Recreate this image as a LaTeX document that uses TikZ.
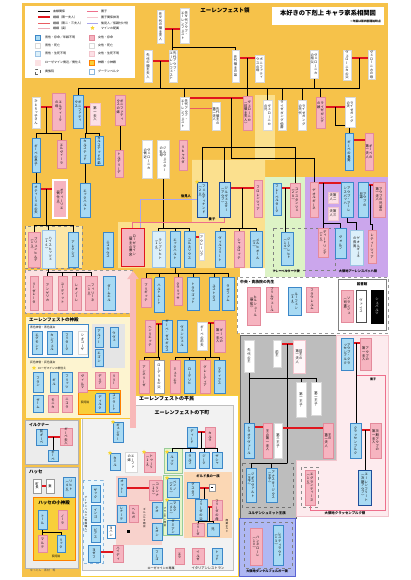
\documentclass[tikz,border=0pt]{standalone}
\usepackage{fontspec}
\setmainfont{Noto Sans CJK JP}
\newfontfamily\vjp[RawFeature=+vert]{Noto Sans CJK JP}
\usetikzlibrary{calc,shapes.geometric,arrows.meta}
\definecolor{cOr}{HTML}{F6C24A}
\definecolor{cOrL}{HTML}{FBE08E}
\definecolor{cBlue}{HTML}{A8DAF3}
\definecolor{cBlueD}{HTML}{3C87C8}
\definecolor{cBlueT}{HTML}{1F4E9A}
\definecolor{cBlueL}{HTML}{DCF0FA}
\definecolor{cPink}{HTML}{F6B4C0}
\definecolor{cPinkD}{HTML}{E48A9B}
\definecolor{cPinkL}{HTML}{FCE0E6}
\definecolor{cRed}{HTML}{E0161E}
\definecolor{cAdopt}{HTML}{EE6F8C}
\definecolor{cGreen}{HTML}{DDF3C6}
\definecolor{cPurp}{HTML}{CBA6EC}
\definecolor{cGray}{HTML}{BDBDBD}
\definecolor{cGrayL}{HTML}{ECECEC}
\definecolor{cKl}{HTML}{FDEBEE}
\definecolor{cDk}{HTML}{AFB8F3}
\definecolor{cDkD}{HTML}{5A63D3}
\definecolor{cTemple}{HTML}{FDF4D0}
\definecolor{cYel}{HTML}{F8CF3A}
\definecolor{cGuild}{HTML}{FBD7B4}
\definecolor{cGil}{HTML}{F8D2CC}
\definecolor{cPlant}{HTML}{E7F5C9}
\definecolor{cLav}{HTML}{A9A6EE}
\definecolor{cRetain}{HTML}{FBE2E2}
\definecolor{cStar}{HTML}{F9D62E}
\definecolor{cArrow}{HTML}{F8B9B9}
\pgfdeclarelayer{bg}\pgfdeclarelayer{ln}\pgfsetlayers{bg,ln,main}
\makeatletter
\def\vtsize{3.3}\def\vtstep{3.6}
\def\vt@end{\vt@end@@}
\newcommand\vt[1]{\vtop{\vjp\fontsize{\vtsize}{\vtstep}\selectfont\baselineskip=\vtstep pt\relax\lineskiplimit=-100pt\lineskip=0pt\relax\vt@a#1\vt@end}}
\def\vt@a#1{\ifx#1\vt@end\else\hbox to 1em{\hss#1\hss}\expandafter\vt@a\fi}
\newcommand\vtt[2]{\hbox{\vt{#2}\kern0.4pt\vt{#1}}}
\newcommand\vts[1]{{\def\vtsize{2.6}\def\vtstep{2.9}\vt{#1}}}
\makeatother
\newcommand\PB[7]{\node[#2,minimum width={(#5)-(#3)},minimum height={(#6)-(#4)}] (#1) at ({((#3)+(#5))/2},{((#4)+(#6))/2}) {#7};}
\newcommand\Mar[4][mar]{\draw[#1] (#2.east |- 0,#4) -- coordinate (#2#3) (#3.west |- 0,#4);}
\newcommand\Kids[3]{\draw[kin] (#1) -- (#1 |- 0,#2); \foreach \c in {#3}{\draw[kin] (#1 |- 0,#2) -| (\c.north);}}
\newcommand\St[1]{\node[stary] (st#1) at (#1.north west) {};}
\tikzset{
 bx/.style={inner sep=0pt,outer sep=0pt,line width=0.45pt},
 mal/.style={bx,fill=cBlue,draw=cBlueD},
 malt/.style={mal,line width=0.9pt,draw=cBlueT},
 malu/.style={bx,fill=cBlueL,draw=cBlueD!50},
 fem/.style={bx,fill=cPink,draw=cPinkD},
 femu/.style={bx,fill=cPinkL,draw=cPinkD!50},
 ded/.style={bx,fill=white,draw=black!15},
 kin/.style={draw=black,line width=0.45pt},
 mar/.style={draw=cRed,line width=1.1pt},
 marb/.style={draw=cRed!70,line width=0.7pt},
 marc/.style={draw=cPinkD!70,line width=0.6pt},
 adopt/.style={draw=cAdopt,line width=0.7pt},
 adoptx/.style={draw=cPinkL!70!cPinkD,line width=0.7pt},
 guard/.style={draw=cLav,line width=0.8pt},
 lab/.style={inner sep=0pt,font=\fontsize{3}{3}\selectfont},
 rlab/.style={inner sep=0pt,font=\bfseries\fontsize{4.5}{4.5}\selectfont},
 stary/.style={star,star points=5,star point ratio=2.2,fill=cStar,draw=none,inner sep=0pt,minimum size=4.5pt},
}
\begin{document}
\begin{tikzpicture}[x=1pt,y=-1pt]
\useasboundingbox (0,0) rectangle (410,580);
\begin{pgfonlayer}{bg}
\fill[white] (0,0) rectangle (410,580);
\fill[cOr] (22,3) rectangle (388,177);
\fill[cOr] (22,3) rectangle (240,577);
\fill[cOrL] (192,160) -- (265,160) -- (265,268) -- (118,268) -- (118,222) -- (192,222) -- cycle;
\fill[cOrL] (255,95) rectangle (275,160);
\fill[white] (25,6) rectangle (135,78);
\fill[white] (272,7) rectangle (384,25);
\draw[dashed,draw=black!45,fill=cOrL!80] (25,226) rectangle (82,268);
\draw[dashed,draw=black!40,fill=cRetain] (25,270) rectangle (132,313);
\fill[cGreen] (265,177) rectangle (305,277);
\fill[cPurp] (305,177) rectangle (388,277);
\draw[dashed,draw=black!50] (273,228) rectangle (335,270);
\draw[dashed,draw=black!40,fill=white] (237,277) rectangle (388,333);
\draw[draw=black!50,line width=0.6pt,fill=white] (338,279) rectangle (386,330);
\draw[draw=black!60,line width=0.6pt,fill=cGray] (240,335) -- (336,335) -- (336,460) -- (296,460) -- (296,518) -- (240,518) -- cycle;
\draw[dashed,draw=black!55] (242,463) rectangle (293,507);
\draw[draw=cPinkD!50,line width=0.6pt,fill=cKl] (336,335) -- (388,335) -- (388,516) -- (296,516) -- (296,460) -- (336,460) -- cycle;
\draw[dashed,draw=black!45] (301,467) rectangle (318,507);
\draw[draw=cDkD,line width=1pt,fill=cDk] (239,518) rectangle (295,576);
\draw[dashed,draw=black!50] (244,522) rectangle (292,568);
\draw[draw=cYel,line width=0.8pt,fill=white] (80,395) rectangle (238,576);
\draw[draw=black!25,line width=0.6pt,fill=black!5] (82,405) rectangle (233,570);
\draw[draw=cYel!90!orange,line width=1pt,fill=cTemple] (25,316) rectangle (130,418);
\draw[draw=cBlueD,line width=0.6pt,fill=cBlueL!70!black!5] (28,324) rectangle (88,357);
\fill[black!10] (92,324) rectangle (125,368);
\draw[draw=orange,line width=0.6pt,fill=cYel] (78,390) rectangle (120,414);
\draw[draw=black!30,line width=0.6pt,fill=cGrayL] (25,420) rectangle (78,464);
\draw[draw=black!30,line width=0.6pt,fill=cGrayL] (25,467) rectangle (78,568);
\draw[draw=orange,line width=0.8pt,fill=cYel] (33,497) rectangle (75,560);
\fill[cGil] (116,476) rectangle (162,545);
\draw[draw=green!50!black!40,fill=cPlant] (163,475) rectangle (182,535);
\draw[draw=green!50!black!40,fill=cPlant] (164,448) rectangle (182,473);
\fill[cGuild] (184,472) rectangle (232,538);
\draw[dashed,draw=cBlueD!60,fill=cBlueL!60] (83,480) rectangle (103,563);
\end{pgfonlayer}
% ---------- legend ----------
\foreach \i/\y/\s/\t in {1/11/kin/血縁関係,2/17/mar/婚姻（第一夫人）,3/23/marb/婚姻（第二・三夫人）,4/28/marc/婚姻（妾）}{
 \coordinate (la\i) at (38,\y); \coordinate (lb\i) at (50,\y);
 \draw[\s] (la\i) -- (lb\i);
 \node[lab,anchor=west] (lt\i) at (53,\y) {\t};}
\foreach \i/\y/\s/\t in {5/11/adopt/養子,6/17/adoptx/養子関係抹消,7/23/guard/後見人／仮親付け役}{
 \coordinate (la\i) at (87,\y); \coordinate (lb\i) at (98,\y);
 \draw[\s] (la\i) -- (lb\i);
 \node[lab,anchor=west] (lt\i) at (101,\y) {\t};}
\node[stary] (lst) at (92.5,28) {};
\node[lab,anchor=west] (lt8) at (101,28) {マインの配属};
\PB{li1}{mal}{35}{35}{40}{40}{}
\PB{li2}{ded}{35}{43}{40}{48}{}
\PB{li3}{malu}{35}{51}{40}{56}{}
\PB{li4}{bx,fill=cRetain,draw=cPinkL}{35}{60}{40}{65}{}
\PB{li5}{bx,draw=black!60,dashed,fill=white}{35}{69}{40}{74}{}
\node[lab,anchor=west] (lu1) at (45,37.5) {男性・存命／年齢不明};
\node[lab,anchor=west] (lu2) at (45,45.5) {男性・死亡};
\node[lab,anchor=west] (lu3) at (45,53.5) {男性・生死不明};
\node[lab,anchor=west] (lu4) at (45,62.5) {ローゼマイン側近／側仕え};
\node[lab,anchor=west] (lu5) at (45,71.5) {貴族院};
\PB{lj1}{fem}{89}{35}{94}{40}{}
\PB{lj2}{ded}{89}{43}{94}{48}{}
\PB{lj3}{femu}{89}{51}{94}{56}{}
\PB{lj4}{bx,fill=cYel,draw=orange}{89}{60}{94}{65}{}
\PB{lj5}{bx,fill=white,draw=cBlueD!60}{89}{69}{94}{74}{}
\node[lab,anchor=west] (lv1) at (98,37.5) {女性・存命};
\node[lab,anchor=west] (lv2) at (98,45.5) {女性・死亡};
\node[lab,anchor=west] (lv3) at (98,53.5) {女性・生死不明};
\node[lab,anchor=west] (lv4) at (98,62.5) {神殿・小神殿};
\node[lab,anchor=west] (lv5) at (98,71.5) {グーテンベルク};
% ---------- titles ----------
\node[inner sep=0,font=\bfseries\fontsize{6.3}{6.3}\selectfont] (title) at (328,13.5) {本好きの下剋上 キャラ家系相関図};
\node[inner sep=0,anchor=east,font=\bfseries\fontsize{2.8}{2.8}\selectfont] (subt) at (381,21.5) {※年齢は第四部開始時点};
\node[rlab,font=\bfseries\fontsize{5.5}{5.5}\selectfont] (erl) at (225,10) {エーレンフェスト領};
% ---------- upper tree ----------
\PB{A1}{ded}{157}{10}{164}{43}{\vt{先々代の領主夫人}}
\PB{A2}{ded}{180}{8}{189}{43}{\vtt{先々代アウブ・}{エーレンフェスト}}
\PB{B1}{ded}{144}{50}{152}{82}{\vt{先代の領主夫人}}
\PB{B2}{ded}{169}{50}{177}{82}{\vtt{先代アウブ・}{エーレンフェスト}}
\PB{B3}{ded}{232}{50}{239}{82}{\vt{先代領主の弟}}
\PB{B4}{ded}{255}{55}{264}{82}{\vtt{ボニファティ}{ウスの母}}
\PB{B5}{ded}{310}{50}{318}{78}{\vtt{ヴェローニカ}{の祖父}}
\PB{B6}{ded}{343}{50}{351}{80}{\vt{ヴェローニカの父}}
\PB{B7}{ded}{368}{50}{375}{79}{\vt{ヴェローニカの母}}
\PB{C1}{ded}{32}{97}{40}{128}{\vt{ひとりっ子さん}}
\PB{C2}{fem}{52}{93}{65}{130}{\vtt{エルヴィーラ}{の母}}
\PB{C3}{mal}{73}{95}{83}{128}{\vtt{ボニファティ}{ウス}}
\PB{C4}{femu}{90}{103}{100}{125}{\vt{第一夫人}}
\PB{C5}{fem}{115}{95}{125}{125}{\vtt{ボニファティ}{ウスの妹}}
\PB{C6}{ded}{180}{97}{189}{130}{\vtt{先代アウブ・}{エーレンフェスト}}
\PB{C7}{ded}{212}{102}{220}{130}{\vtt{先代領主の}{第二夫人}}
\PB{C8}{fem}{243}{96}{252}{130}{\vtt{ヴェローニカ}{（前領主夫人）}}
\PB{C9}{ded}{263}{100}{272}{130}{\vtt{ヴェローニカ}{の兄}}
\PB{C10}{ded}{278}{100}{286}{130}{\vt{ライゼガング伯爵}}
\PB{C11}{ded}{298}{100}{306}{130}{\vtt{ライゼガング}{の先代}}
\PB{C12}{fem}{316}{97}{325}{128}{\vtt{ライゼガング}{の娘}}
\PB{C13}{ded}{345}{97}{355}{127}{\vtt{ライゼガング}{の夫}}
\PB{D1}{mal}{32}{138}{40}{172}{\vt{ギーベの息子}}
\PB{D2}{fem}{57}{140}{66}{168}{\vt{エルヴィーラ}}
\PB{D3}{mal}{80}{138}{90}{163}{\vt{カルステッド}}
\PB{D4}{mal}{95}{136}{103}{165}{\vt{カルステッドの弟}}
\PB{D5}{fem}{115}{150}{123}{177}{\vt{トルデリーデ}}
\PB{D6}{ded}{142}{140}{152}{178}{\vtt{ヴェローニカ}{の側近}}
\PB{D7}{ded}{157}{140}{169}{178}{\vtt{ジルヴェスター}{の乳母}}
\PB{D8}{fem}{179}{140}{187}{170}{\vt{リヒャルダ}}
\PB{D9}{mal}{345}{133}{353}{170}{\vt{ギーベの長男}}
\PB{D10}{fem}{365}{133}{373}{170}{\vtt{ギーベの}{第一夫人}}
\PB{E1}{mal}{32}{183}{40}{217}{\vt{オティーリエの夫}}
\PB{E2}{fem,draw=white,line width=1.4pt}{53}{180}{67}{218}{\vtt{オティーリエ}{（側仕え）}}
\PB{E3}{mal}{80}{183}{90}{217}{\vt{エックハルト}}
\PB{F1}{fem}{28}{232}{40}{267}{\vtt{ブリュンヒルデ}{（13）}}
\PB{F2}{malu}{42}{230}{55}{268}{\vtt{ハイスヒッツェ}{（16）}}
\PB{F3}{mal}{68}{232}{78}{267}{\vt{アレクシス}}
\PB{F4}{mal}{103}{232}{113}{267}{\vt{ニコラウス}}
\PB{R}{fem,draw=cRed,line width=1pt}{121}{228}{144}{266}{\vtt{ローゼマイン}{（領主の養女）}}
\PB{K1}{fem}{30}{276}{38}{310}{\vt{リーゼレータ}}
\PB{K2}{fem}{43}{276}{52}{310}{\vt{アンゲリカ}}
\PB{K3}{fem}{58}{276}{67}{310}{\vt{ユーディット}}
\PB{K4}{fem}{72}{276}{81}{310}{\vt{レオノーレ}}
\PB{K5}{fem}{85}{276}{97}{310}{\vtt{フィリーネ}{（10）}}
\PB{K6}{mal}{103}{276}{115}{310}{\vt{ダームエル}}
\PB{Fe}{malt}{197}{182}{207}{217}{\vtt{フェルディナンド}{（20）}}
\St{Fe}
\PB{Sy}{malt}{219}{182}{230}{217}{\vtt{ジルヴェスター}{（アウブ）}}
\PB{Fl}{fem}{254}{180}{262}{217}{\vt{フロレンツィア}}
\PB{G1}{malu}{152}{231}{165}{267}{\vtt{ランプレヒト}{（16）}}
\PB{G2}{mal}{170}{231}{180}{267}{\vt{エックハルト}}
\PB{G3}{mal}{184}{231}{195}{267}{\vt{コルネリウス}}
\PB{G4}{ded}{199}{233}{204}{260}{\vt{アウレーリア}}
\PB{Me}{mal}{215}{231}{225}{267}{\vt{ヴィルフリート}}
\PB{Ch}{fem}{234}{231}{244}{267}{\vt{シャルロッテ}}
\PB{Mel}{mal}{250}{231}{262}{267}{\vtt{メルヒオール}{（3）}}
\PB{H1}{fem}{141}{278}{151}{307}{\vt{ブリギッテ}}
\PB{H2}{mal}{154}{277}{164}{312}{\vt{ハルトムート}}
\St{H2}
\PB{H3}{fem}{174}{277}{182}{305}{\vt{クラリッサ}}
\PB{H4}{mal}{187}{277}{199}{310}{\vt{トラウゴット}}
\PB{H5}{mal}{209}{277}{219}{310}{\vt{ユストクス}}
\PB{H6}{mal}{222}{277}{234}{310}{\vt{ラザファム}}
\PB{I1}{fem}{145}{320}{155}{352}{\vt{ヘンリエッテ}}
\PB{I2}{mal}{162}{320}{172}{352}{\vt{ギーベ・ゼルギウス}}
\PB{I3}{mal}{177}{320}{187}{352}{\vt{ヴェンツェル}}
\PB{I4}{ded}{197}{322}{207}{350}{\vt{ギーベの前夫}}
\PB{I5}{fem}{214}{320}{225}{352}{\vtt{ギーベの}{第一夫人}}
\PB{J1}{fem}{139}{360}{149}{393}{\vt{アンネリーゼ}}
\PB{J2}{ded,draw=black!40}{154}{360}{164}{393}{\vt{ローデリヒの父}}
\PB{J3}{fem}{170}{360}{180}{393}{\vt{ミュリエラ}}
\PB{J4}{mal}{184}{360}{195}{393}{\vt{ローデリヒ}}
\PB{J5}{fem}{200}{360}{210}{393}{\vt{グレーティア}}
\PB{J6}{mal}{214}{360}{225}{393}{\vt{マティアス}}
% green / purple
\PB{Gr1}{mal}{273}{183}{281}{215}{\vt{フレーベルターク}}
\PB{Gr2}{fem}{290}{183}{300}{217}{\vtt{コンスタンツェ}{（28）}}
\PB{Gr3}{mal}{281}{232}{293}{265}{\vtt{ジークレヒト}{（14）}}
\PB{P1}{fem}{310}{182}{318}{217}{\vt{ゲオルギーネ}}
\PB{P2}{femu}{328}{192}{338}{203}{\vtt{第二}{夫人}}
\PB{P3}{femu}{328}{207}{338}{220}{\vtt{第三}{夫人}}
\PB{P4}{mal}{341}{182}{353}{217}{\vtt{アウブ・アーレ}{ンスバッハ}}
\PB{P5}{mal}{358}{182}{368}{217}{\vtt{アウブの}{兄弟}}
\PB{P6}{fem}{373}{182}{385}{217}{\vtt{アウブの兄弟の}{第一夫人}}
\PB{P7}{fem}{318}{228}{328}{257}{\vtt{ディートリンデ}{（15）}}
\PB{P8}{mal}{335}{228}{346}{258}{\vt{ヴォルフ}}
\PB{P9}{malu}{350}{230}{363}{265}{\vtt{ゲオルギーネ}{の長男}}
\PB{P10}{fem}{368}{230}{376}{263}{\vt{レティーツィア}}
\node[rlab,font=\bfseries\fontsize{3}{3}\selectfont] (frl) at (286,271.5) {フレーベルターク領};
\node[rlab,font=\bfseries\fontsize{3.2}{3.2}\selectfont] (arl) at (358,271.5) {大領地アーレンスバッハ領};
% centre
\node[rlab,anchor=west,font=\bfseries\fontsize{3.8}{3.8}\selectfont] (chl) at (240,282) {中央・貴族院の先生};
\PB{Z1}{fem}{247}{287}{260}{325}{\vtt{ヒルシュール}{（寮監）}}
\PB{Z2}{fem}{266}{287}{278}{312}{\vt{プリムヴェール}}
\PB{Z3}{mal}{288}{287}{301}{315}{\vtt{ルーフェン}{（34）}}
\PB{Z4}{fem}{306}{287}{318}{312}{\vt{フラウレルム}}
\node[rlab,font=\bfseries\fontsize{3.5}{3.5}\selectfont] (libl) at (362,284) {図書館};
\PB{L1}{fem}{341}{290}{353}{322}{\vtt{ソランジュ}{（司書）}}
\PB{L2}{ded,draw=black!70}{356}{290}{366}{322}{\vt{ヴァイス}}
\PB{L3}{bx,fill=black,draw=black,text=white}{371}{290}{383}{323}{\vt{シュバルツ}}
% royals
\PB{W1}{ded}{244}{340}{254}{372}{\vt{先代の王}}
\PB{W2}{ded}{273}{340}{281}{367}{\vt{前王}}
\PB{W3}{femu,fill=white!70!cPinkL}{293}{340}{305}{373}{\vtt{前王の}{第一夫人}}
\PB{W4}{ded}{296}{382}{306}{417}{\vt{第一王子}}
\PB{W5}{ded}{311}{382}{321}{415}{\vt{第二王子}}
\PB{W6}{mal}{244}{423}{254}{458}{\vt{トラオクヴァール}}
\PB{W7}{fem}{263}{423}{272}{458}{\vt{王の第一夫人}}
\PB{W8}{ded}{274}{423}{282}{458}{\vt{第三王子}}
\PB{W9}{fem}{323}{423}{333}{458}{\vtt{王の}{第二夫人}}
\PB{W10}{mal}{246}{468}{256}{502}{\vtt{ジギスヴァルト}{（王子）}}
\PB{W11}{mal}{266}{468}{277}{502}{\vtt{アナスタージウス}{（王子）}}
\node[rlab,font=\bfseries\fontsize{3.4}{3.4}\selectfont] (royl) at (267,513) {ユルゲンシュミット王族};
% klassenberg
\PB{KL1}{mal}{341}{338}{353}{370}{\vtt{アウブ・クラ}{ッセンブルク}}
\PB{KL2}{fem}{360}{338}{371}{370}{\vtt{アウブの}{第一夫人}}
\PB{KL3}{mal}{350}{423}{361}{458}{\vt{クラッセンブルク}}
\PB{KL4}{fem}{370}{423}{381}{458}{\vtt{次期アウブの}{第一夫人}}
\PB{KL5}{malt}{358}{470}{371}{505}{\vtt{エーレンフリート}{（次期アウブ）}}
\PB{EG}{fem}{305}{470}{315}{505}{\vtt{エグランティーヌ}{（15）}}
\node[rlab,font=\bfseries\fontsize{3.4}{3.4}\selectfont] (kll) at (345,513) {大領地クラッセンブルク領};
\node[lab,font=\bfseries\fontsize{3}{3}\selectfont] (ady) at (373,379) {養子};
% dunkelfelger
\PB{DK1}{fem}{250}{528}{262}{565}{\vtt{ハンネローレ}{（10）}}
\PB{DK2}{mal}{273}{525}{283}{565}{\vtt{レスティラウト}{（13）}}
\node[rlab,font=\bfseries\fontsize{3.2}{3.2}\selectfont] (dkl) at (267,571.5) {大領地ダンケルフェルガー領};
% temple
\node[rlab,anchor=west,font=\bfseries\fontsize{4.5}{4.5}\selectfont] (tml) at (29,320) {エーレンフェストの神殿};
\node[lab,anchor=west,font=\fontsize{2.8}{2.8}\selectfont] (bpl) at (30,327.5) {青色神官・青色巫女};
\PB{T1}{mal}{32}{331}{42}{354}{\vt{エグモント}}
\PB{T2}{mal}{47}{331}{57}{354}{\vt{カンフェル}}
\PB{T3}{mal}{62}{331}{72}{354}{\vt{フリターク}}
\PB{T4}{ded}{78}{331}{87}{354}{\vt{シキコーザ}}
\PB{Ta}{mal}{95}{327}{103}{347}{\vt{アルノー}}
\PB{Tb}{mal}{110}{327}{118}{347}{\vt{ウヴェ}}
\PB{Tc}{mal}{95}{349}{103}{366}{\vt{エゴン}}
\node[lab,anchor=west,font=\fontsize{2.8}{2.8}\selectfont] (gpl) at (30,362) {灰色神官・灰色巫女};
\node[lab,anchor=west,font=\fontsize{2.8}{2.8}\selectfont] (rsl) at (38,368) {ローゼマインの側仕え};
\node[stary] (strs) at (34,368) {};
\PB{T5}{mal}{33}{372}{43}{392}{\vt{フラン}}
\PB{T6}{mal}{50}{372}{58}{392}{\vt{ギル}}
\PB{T7}{mal}{62}{372}{72}{392}{\vt{フリッツ}}
\PB{T8}{fem}{78}{372}{87}{392}{\vt{ヴィルマ}}
\PB{T9}{fem}{95}{372}{105}{388}{\vt{デリア}}
\PB{T10}{fem}{110}{372}{118}{388}{\vt{リリー}}
\PB{T11}{mal}{33}{395}{43}{412}{\vt{ザーム}}
\PB{T12}{fem}{48}{395}{58}{412}{\vt{モニカ}}
\PB{T13}{fem}{62}{395}{72}{412}{\vt{ニコラ}}
\node[lab,font=\fontsize{2.8}{2.8}\selectfont] (orl) at (85,402) {孤児院};
\PB{T14}{mal}{95}{393}{105}{412}{\vt{ディルク}}
\St{T14}
\PB{T15}{mal}{109}{393}{119}{412}{\vt{コンラート}}
% ilkner, hasse
\node[rlab,anchor=west,font=\bfseries\fontsize{4}{4}\selectfont] (ikl) at (29,424.5) {イルクナー};
\PB{IL1}{mal}{36}{429}{47}{445}{\vt{前ギーベ}}
\PB{IL2}{fem}{60}{428}{72}{445}{\vt{ギーベ夫人}}
\PB{IL3}{mal}{48}{450}{58}{461}{\vt{ギーベ}}
\node[rlab,anchor=west,font=\bfseries\fontsize{4.5}{4.5}\selectfont] (hsl) at (29,472) {ハッセ};
\PB{HA1}{ded,draw=black!40}{33}{479}{41}{493}{\vt{町長}}
\PB{HA2}{ded,draw=black!40}{46}{479}{54}{493}{\vt{妻}}
\PB{HA3}{mal}{63}{477}{75}{497}{\vtt{リヒト}{（46）}}
\node[rlab,font=\bfseries\fontsize{4.5}{4.5}\selectfont] (hstl) at (54,502.5) {ハッセの小神殿};
\PB{HB1}{mal}{38}{510}{47}{529}{\vt{トール}}
\PB{HB2}{fem}{58}{510}{67}{529}{\vt{ノーラ}}
\PB{HB3}{fem}{38}{535}{47}{552}{\vt{マルテ}}
\PB{HB4}{mal}{57}{535}{65}{552}{\vt{リック}}
\node[lab,font=\fontsize{2.8}{2.8}\selectfont] (orl2) at (56,556) {孤児院};
\node[lab,anchor=west,font=\fontsize{2.8}{2.8}\selectfont,text=black!70] (cred) at (30,570) {ゆっとん　素材　等};
% commoners
\node[rlab,anchor=west,font=\bfseries\fontsize{5}{5}\selectfont] (hml) at (139,399) {エーレンフェストの平民};
\node[rlab,font=\bfseries\fontsize{5}{5}\selectfont] (sml) at (182,413) {エーレンフェストの下町};
\PB{DM0}{mal}{113}{422}{123}{442}{\vt{ギュンター}}
\St{DM0}
\PB{DM1}{mal}{187}{427}{197}{447}{\vt{ディード}}
\PB{DM2}{fem}{205}{427}{215}{447}{\vt{カルラ}}
\PB{DMs}{mal}{110}{453}{120}{470}{\vt{カミル}}
\St{DMs}
\PB{DMw}{ded}{125}{452}{137}{472}{\vtt{エーファ}{の妹}}
\PB{Tu}{fem}{144}{452}{155}{472}{\vtt{トゥーリ}{（12）}}
\St{Tu}
\PB{Lu}{mal}{167}{452}{177}{470}{\vt{ルッツ}}
\St{Lu}
\PB{Ra}{mal}{185}{452}{195}{468}{\vt{ラルフ}}
\PB{Si}{mal}{199}{452}{209}{468}{\vt{ジーク}}
\PB{Za}{mal}{212}{452}{222}{468}{\vt{ザシャ}}
\PB{GB1}{mal}{118}{478}{126}{496}{\vt{オットー}}
\PB{GB2}{fem}{149}{480}{162}{500}{\vtt{コリンナ}{（20）}}
\node[inner sep=0] (gbl) at (144.5,518) {\vts{ギルベルタ商会}};
\PB{GB3}{mal}{117}{505}{126}{522}{\vt{レナーテ}}
\PB{GB4}{fem}{129}{505}{138}{522}{\vt{ヘルガ}}
\PB{GB5}{mal}{152}{502}{162}{518}{\vt{テオ}}
\PB{GB6}{mal}{152}{523}{162}{540}{\vt{レオン}}
\PB{GBx}{bx,fill=black,minimum size=2.5pt}{127}{530}{130}{533}{}
\PB{GB7}{ded,draw=cBlueD}{107}{525}{115}{538}{\vt{ヨハン}}
\PB{GB8}{fem}{113}{545}{123}{562}{\vt{ハイディ}}
\PB{GB9}{mal}{88}{545}{100}{562}{\vt{ヨゼフ}}
\node[inner sep=0] (gtl) at (86,515) {\vts{グーテンベルク（専属職人）}};
\PB{GT1}{mal}{91}{485}{100}{502}{\vt{ザック}}
\PB{GT2}{mal}{91}{505}{100}{522}{\vt{インゴ}}
\PB{GT3}{mal}{91}{525}{100}{542}{\vt{ビアス}}
\node[inner sep=0] (pll) at (165,517) {\vts{プランタン商会}};
\PB{Be}{mal}{167}{478}{179}{497}{\vtt{ベンノ}{（25）}}
\St{Be}
\PB{Ma}{mal}{167}{500}{179}{518}{\vtt{マルク}{（41）}}
\St{Ma}
\PB{Ma2}{mal}{167}{521}{179}{533}{\vt{ダミアン}}
\node[rlab,font=\bfseries\fontsize{3.3}{3.3}\selectfont] (gul) at (208,476) {ギルド長の一族};
\PB{GU1}{mal}{187}{482}{199}{498}{\vt{グスタフ}}
\PB{GUx}{bx,fill=white,draw=black!40}{209}{484}{215}{491}{\tikz\fill (0,0) rectangle (1.5pt,1.5pt);}
\PB{GU2}{mal}{195}{502}{207}{518}{\vt{フリーダの父}}
\PB{GU3}{fem}{212}{502}{222}{518}{\vt{フリーダの母}}
\PB{GU4}{fem}{192}{523}{204}{536}{\vt{フリーダ}}
\PB{GU5}{mal}{207}{523}{219}{536}{\vt{兄}}
\node[inner sep=0] (sgl) at (227,526) {\vts{商業ギルド}};
\PB{BR1}{mal}{152}{548}{162}{564}{\vt{フーゴ}}
\PB{BR2}{fem}{175}{548}{184}{564}{\vt{エラ}}
\PB{BR3}{fem}{192}{548}{204}{564}{\vt{イルゼ}}
\PB{BR4}{mal}{212}{548}{222}{564}{\vt{トッド}}
\node[lab,font=\fontsize{3}{3}\selectfont] (rsen) at (161,568) {ローゼマインの専属};
\node[lab,font=\fontsize{3.3}{3.3}\selectfont] (ital) at (208,568) {イタリアンレストラン};
\node[lab,font=\bfseries\fontsize{3.3}{3.3}\selectfont] (kol) at (186,196) {後見人};
\node[lab,font=\bfseries\fontsize{3.3}{3.3}\selectfont] (yol) at (212,219.5) {養子};
% ---------- connectors ----------
\begin{pgfonlayer}{ln}
\coordinate (arB) at (133,428); \coordinate (arT) at (133,271);
\draw[cArrow,line width=6pt,-{Triangle[width=11pt,length=8pt]}] (arB) -- (arT);
\Mar{A1}{A2}{29}
\draw[kin] (A1A2) -- (A1A2 |- B2.north);
\draw[kin] (A1A2 |- 0,47) -| (B3.north);
\Mar{B1}{B2}{61} \Mar{B3}{B4}{58} \Mar{B6}{B7}{58}
\draw[kin] (B1B2) -- (B1B2 |- 0,88);
\draw[kin] (B3B4) -- (B3B4 |- 0,88);
\draw[kin] (B6B7) -- (B6B7 |- 0,88);
\draw[kin] (C3.north |- 0,88) -- (B6B7 |- 0,88);
\foreach \c in {C3,C6,C8,C9,C10,C11,C12}{\draw[kin] (\c.north |- 0,88) -- (\c.north);}
\draw[kin] (B5.south) -- (B5.south |- 0,88);
\Mar{C1}{C2}{107} \Mar{C3}{C4}{107} \Mar{C6}{C8}{98} \Mar[marb]{C6}{C7}{108} \Mar{C12}{C13}{107}
\Kids{C1C2}{133}{D1,D2}
\Kids{C3C4}{133}{D3,D4}
\draw[kin] (C5.south) -- (C5.south |- D5.north);
\coordinate (cc) at (231,98);
\draw[kin] (cc) -- (cc |- 0,147);
\draw[kin] (Fe.north |- 0,147) -- (Gr2.north |- 0,147);
\foreach \c in {Fe,Sy,Gr2}{\draw[kin] (\c.north |- 0,147) -- (\c.north);}
\draw[kin] (cc |- 0,147) -- (cc |- 0,158) -| (P1.north);
\draw[kin] (C12C13) -- (C12C13 |- 0,125) -| (D9.north);
\Mar{D9}{D10}{140}
\draw[kin] (D1.south) -- (E1.north);
\draw[kin] (D3.south) -- (E3.north);
\Mar{E1}{E2}{189}
\Kids{E1E2}{225}{F1,F2,F3}
\draw[kin] (F2.south) -- (F2.south |- 0,272);
\draw[kin] (K2.north |- 0,272) -- (K5.north |- 0,272);
\foreach \c in {K2,K3,K4,K5}{\draw[kin] (\c.north |- 0,272) -- (\c.north);}
\draw[kin] (D7.south) -- (D7.south |- 0,228);
\draw[kin] (G1.north |- 0,228) -- (G3.north |- 0,228);
\foreach \c in {G1,G2,G3}{\draw[kin] (\c.north |- 0,228) -- (\c.north);}
\coordinate (gd) at (140,199);
\draw[guard] (Fe.west |- gd) -- (gd) -- (gd |- R.north);
\draw[adopt] (Sy.south) -- (Sy.south |- 0,222) -| (R.north);
\Mar{Sy}{Fl}{188}
\Kids{SyFl}{228}{Me,Ch,Mel}
\Mar{G3}{G4}{237}
\draw[kin] (G2.south) -- (G2.south |- 0,273);
\draw[kin] (H1.north |- 0,273) -- (H6.north |- 0,273);
\foreach \c in {H1,H2,H3,H4,H5,H6}{\draw[kin] (\c.north |- 0,273) -- (\c.north);}
\Mar{I1}{I2}{324} \Mar{I4}{I5}{323}
\Kids{I4I5}{357}{J3,J4,J5,J6}
\Kids{I1I2}{357}{J1,J2}
\Mar{Gr1}{Gr2}{188}
\draw[kin] (Gr1Gr2) -- (Gr1Gr2 |- Gr3.north);
\Mar{P1}{P4}{183}
\coordinate (pk) at (323,183);
\draw[kin] (pk) -- (pk |- 0,223) -| (P8.north);
\draw[kin] (pk |- 0,223) -- (P7.north);
\Mar{P5}{P6}{185}
\draw[kin] (P5P6) -- (P5P6 |- 0,224) -| (P10.north);
\draw[kin] (P4.south) -- (P4.south |- 0,222) -| (P9.north);
\Mar{W2}{W3}{344}
\draw[kin] (W2W3) -- (W2W3 |- 0,463);
\draw[kin] (W10.north |- 0,463) -- (W2W3 |- 0,463);
\foreach \c in {W10,W11}{\draw[kin] (\c.north |- 0,463) -- (\c.north);}
\draw[kin] (W1.south) -- (W6.north);
\draw[kin] (W1.south |- 0,378) -- (W5.north |- 0,378);
\foreach \c in {W4,W5}{\draw[kin] (\c.north |- 0,378) -- (\c.north);}
\Mar{W6}{W7}{427} \Mar{W8}{W9}{428}
\Mar{KL1}{KL2}{343}
\draw[kin] (KL1KL2) -- (KL1KL2 |- KL3.north);
\coordinate (ad1) at (385,375); \coordinate (ad2) at (385,510); \coordinate (ad3) at (310,510);
\draw[adopt] (KL1KL2 |- ad1) -- (ad1) -- (ad2) -- (ad3) -- (EG.south);
\Mar{KL3}{KL4}{430}
\draw[kin] (KL3KL4) -- (KL3KL4 |- KL5.north);
\Mar{DM1}{DM2}{432}
\Kids{DM1DM2}{448}{Lu,Ra,Si,Za}
\Mar{IL1}{IL2}{437}
\draw[kin] (IL1IL2) -- (IL1IL2 |- IL3.north);
\Mar{HA1}{HA2}{486}
\Mar{GB1}{GB2}{488}
\Mar{GU1}{GUx}{488}
\draw[kin] (GU1GUx) -- (GU1GUx |- GU2.north);
\Mar{GU2}{GU3}{507}
\Kids{GU2GU3}{521}{GU4,GU5}
\Mar{GB9}{GB8}{552}
\draw[kin] (HB1.south) -- (HB1.south |- 0,532) -| (HB4.north);
\draw[kin] (HB1.south |- 0,532) -- (HB3.north);
\end{pgfonlayer}
\end{tikzpicture}
\end{document}
